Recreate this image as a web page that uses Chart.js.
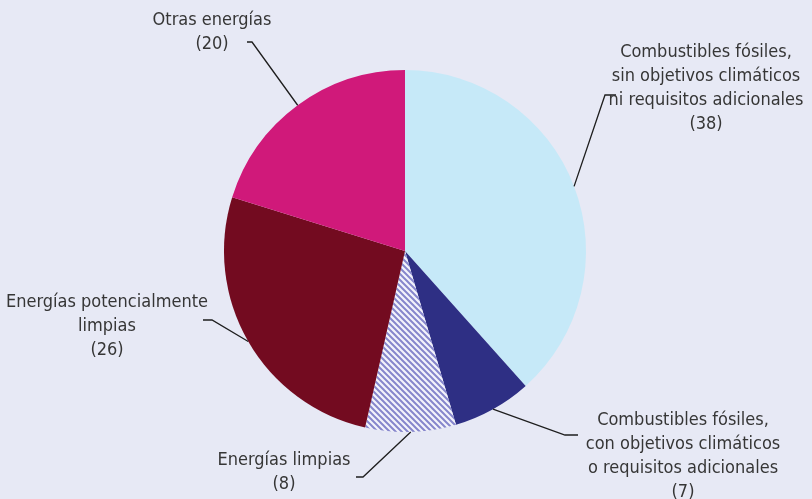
<!DOCTYPE html>
<html>
<head>
<meta charset="utf-8">
<script src="https://cdn.jsdelivr.net/npm/chart.js@4"></script>
<style>
  html, body { margin: 0; padding: 0; background: #e7e9f5; }
  #wrap { width: 812px; height: 499px; }
</style>
</head>
<body>
<div id="wrap"><canvas id="pieChart" width="812" height="499"></canvas></div>
<script>
const categories = [
    ['Combustibles fósiles,', 'sin objetivos climáticos', 'ni requisitos adicionales'],
    ['Combustibles fósiles,', 'con objetivos climáticos', 'o requisitos adicionales'],
    ['Energías limpias'],
    ['Energías potencialmente', 'limpias'],
    ['Otras energías']
];
const shares = [38, 7, 8, 26, 20];

const colors = {
    fossilNoGoals: '#c6e9f8',
    fossilGoals: '#2e2f84',
    cleanStripe: '#8686cc',
    cleanBg: '#f3f3fb',
    potential: '#730b20',
    other: '#d0197a',
    text: '#363636',
    leader: '#1e1e1e'
};

function stripePattern() {
    const tile = document.createElement('canvas');
    tile.width = 6;
    tile.height = 6;
    const t = tile.getContext('2d');
    t.fillStyle = colors.cleanBg;
    t.fillRect(0, 0, 6, 6);
    t.strokeStyle = colors.cleanStripe;
    t.lineWidth = 2;
    t.beginPath();
    t.moveTo(-1, -1); t.lineTo(7, 7);
    t.moveTo(-4, 2); t.lineTo(4, 10);
    t.moveTo(2, -4); t.lineTo(10, 4);
    t.stroke();
    return t.createPattern(tile, 'repeat');
}

// label layout: elbow point, end of horizontal tick, text centre x, first line y, text align
const labelLayout = [
    { elbow: [605, 95], end: [616, 95], tx: 706, ty: 52 },
    { elbow: [565, 435], end: [578, 435], tx: 683, ty: 420 },
    { elbow: [363, 477], end: [356, 477], tx: 284, ty: 460 },
    { elbow: [212, 320], end: [203, 320], tx: 107, ty: 302 },
    { elbow: [252, 42], end: [247, 42], tx: 212, ty: 20 }
];

const fontFamily = "'Liberation Sans Narrow', 'DejaVu Sans Condensed', 'Roboto', sans-serif";

const leaderLabels = {
    id: 'leaderLabels',
    afterDatasetsDraw(chart) {
        const ctx = chart.ctx;
        const arcs = chart.getDatasetMeta(0).data;
        ctx.save();
        arcs.forEach((arc, i) => {
            const p = arc.getProps(['x', 'y', 'startAngle', 'endAngle', 'outerRadius'], true);
            const mid = (p.startAngle + p.endAngle) / 2;
            const sx = p.x + Math.cos(mid) * p.outerRadius;
            const sy = p.y + Math.sin(mid) * p.outerRadius;
            const l = labelLayout[i];
            ctx.strokeStyle = colors.leader;
            ctx.lineWidth = 1.3;
            ctx.beginPath();
            ctx.moveTo(sx, sy);
            ctx.lineTo(l.elbow[0], l.elbow[1]);
            ctx.lineTo(l.end[0], l.end[1]);
            ctx.stroke();

            ctx.fillStyle = colors.text;
            ctx.font = '18px ' + fontFamily;
            ctx.textAlign = 'center';
            ctx.textBaseline = 'middle';
            const lines = categories[i].concat('(' + shares[i] + ')');
            lines.forEach((line, k) => {
                ctx.fillText(line, l.tx, l.ty + k * 24);
            });
        });
        ctx.restore();
    }
};

new Chart(document.getElementById('pieChart'), {
    type: 'pie',
    data: {
        labels: categories.map(c => c.join(' ')),
        datasets: [{
            data: shares,
            backgroundColor: [colors.fossilNoGoals, colors.fossilGoals, stripePattern(), colors.potential, colors.other],
            borderWidth: 0
        }]
    },
    options: {
        responsive: false,
        animation: false,
        layout: { padding: { top: 70, bottom: 67, left: 224, right: 226 } },
        plugins: {
            legend: { display: false },
            tooltip: { enabled: false }
        }
    },
    plugins: [leaderLabels]
});
</script>
</body>
</html>
